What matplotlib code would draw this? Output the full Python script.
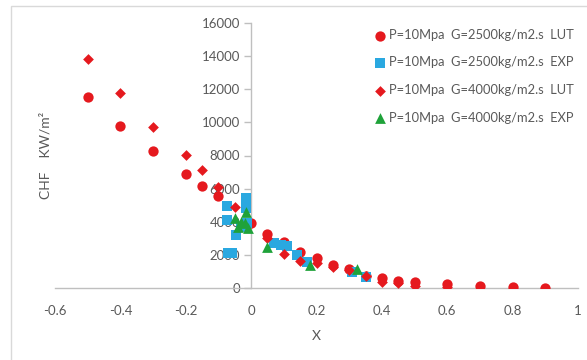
import matplotlib
matplotlib.use("Agg")
import matplotlib.pyplot as plt
from matplotlib.patches import Rectangle
from matplotlib.ticker import FixedLocator, FuncFormatter

plt.rcParams['font.family'] = ['Lato', 'DejaVu Sans']

# G=2500 LUT (red circles)
lut2500_x = [-0.5, -0.4, -0.3, -0.2, -0.15, -0.1, 0.0, 0.05, 0.1, 0.15, 0.2, 0.25, 0.3, 0.35, 0.4, 0.45, 0.5, 0.6, 0.7, 0.8, 0.9]
lut2500_y = [11550, 9800, 8300, 6900, 6150, 5550, 3950, 3250, 2750, 2200, 1800, 1400, 1150, 750, 600, 420, 350, 250, 100, 60, 30]

# G=2500 EXP (blue squares)
exp2500_x = [-0.075, -0.075, -0.07, -0.06, -0.045, -0.03, -0.015, -0.015, -0.012, 0.07, 0.09, 0.11, 0.14, 0.17, 0.31, 0.35]
exp2500_y = [4950, 4100, 2100, 2100, 3200, 3700, 5450, 4850, 3900, 2720, 2600, 2550, 2000, 1600, 950, 650]

# G=4000 LUT (red diamonds)
lut4000_x = [-0.5, -0.4, -0.3, -0.2, -0.15, -0.1, -0.05, 0.05, 0.1, 0.15, 0.2, 0.25, 0.3, 0.35, 0.4, 0.45, 0.5, 0.6]
lut4000_y = [13850, 11750, 9750, 8050, 7100, 6100, 4900, 3000, 2050, 1650, 1500, 1250, 1100, 700, 350, 300, 150, 80]

# G=4000 EXP (green triangles)
exp4000_x = [-0.05, -0.04, -0.015, -0.02, -0.01, -0.03, 0.05, 0.18, 0.325]
exp4000_y = [4250, 3700, 4600, 3950, 3600, 4000, 2500, 1400, 1150]

labels = ["P=10Mpa  G=2500kg/m2.s  LUT", "P=10Mpa  G=2500kg/m2.s  EXP",
          "P=10Mpa  G=4000kg/m2.s  LUT", "P=10Mpa  G=4000kg/m2.s  EXP"]

x_ticks = [-0.6, -0.4, -0.2, 0, 0.2, 0.4, 0.6, 0.8, 1.0]
y_ticks = [0, 2000, 4000, 6000, 8000, 10000, 12000, 14000, 16000]

RED = '#E5191E'
BLUE = '#2AA8E0'
GREEN = '#1FA23A'
TXT = '#595959'
AX = '#BFBFBF'

W, H = 587, 360
fig = plt.figure(figsize=(W / 100, H / 100), dpi=100)
fig.patch.set_facecolor('white')

# chart frame
fig.patches.append(Rectangle((11 / W, -0.1), 1.2, 1 - 6 / H + 0.1, transform=fig.transFigure,
                             fill=False, edgecolor='#D9D9D9', linewidth=1.0))

left, right = 55 / W, 578 / W
bottom, top = 1 - 288 / H, 1 - 23 / H
ax = fig.add_axes([left, bottom, right - left, top - bottom])

ax.scatter(lut2500_x, lut2500_y, marker='o', s=55, color=RED, linewidths=0, label=labels[0], zorder=3)
ax.scatter(exp2500_x, exp2500_y, marker='s', s=50, color=BLUE, linewidths=0, label=labels[1], zorder=4)
ax.scatter(lut4000_x, lut4000_y, marker='D', s=30, color=RED, linewidths=0, label=labels[2], zorder=5)
ax.scatter(exp4000_x, exp4000_y, marker='^', s=60, color=GREEN, linewidths=0, label=labels[3], zorder=6)

ax.set_xlim(-0.6, 1.0)
ax.set_ylim(0, 16000)

for s in ['top', 'right']:
    ax.spines[s].set_visible(False)
ax.spines['left'].set_position(('data', 0))
ax.spines['left'].set_color(AX)
ax.spines['bottom'].set_color(AX)
ax.spines['left'].set_linewidth(1.0)
ax.spines['bottom'].set_linewidth(1.0)

ax.xaxis.set_major_locator(FixedLocator(x_ticks))
ax.yaxis.set_major_locator(FixedLocator(y_ticks))
ax.xaxis.set_major_formatter(FuncFormatter(lambda v, p: '{:g}'.format(round(v, 2))))
ax.yaxis.set_major_formatter(FuncFormatter(lambda v, p: '{:d}'.format(int(v))))
ax.tick_params(axis='x', length=0, pad=12, labelsize=9.5, labelcolor=TXT)
ax.tick_params(axis='y', length=5, width=1, color=AX, pad=3, labelsize=9.5, labelcolor=TXT)
ax.set_facecolor('none')

fig.text(316 / W, 1 - 336 / H, 'X', ha='center', va='center', fontsize=10, color=TXT)
fig.text(45 / W, 1 - 155 / H, 'CHF    KW/m²', ha='center', va='center', rotation=90, fontsize=10, color=TXT)

leg = ax.legend(loc='upper left', bbox_to_anchor=(375 / W, 1 - 29 / H), bbox_transform=fig.transFigure,
                frameon=False, fontsize=9.3, handlelength=0.8, handletextpad=0.3,
                labelspacing=1.2, borderpad=0, borderaxespad=0, scatterpoints=1)
for t in leg.get_texts():
    t.set_color(TXT)

fig.savefig('out.png', dpi=100)
